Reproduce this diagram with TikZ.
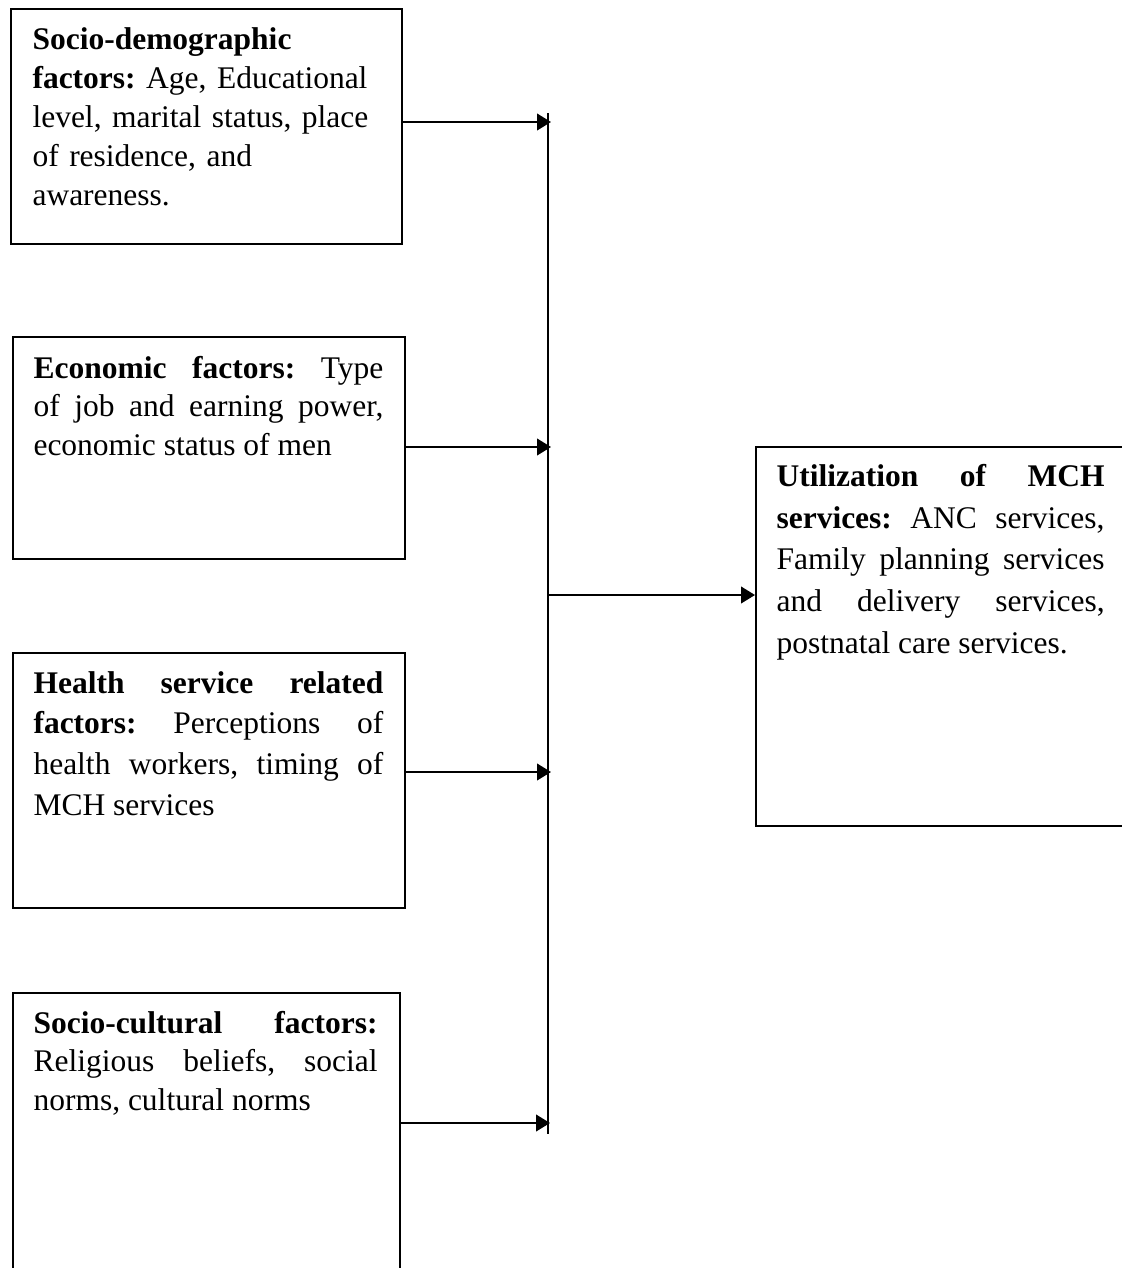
\documentclass[tikz,border=0pt]{standalone}
\usepackage{fontspec}
\setmainfont{Liberation Serif}
\frenchspacing
\usetikzlibrary{arrows.meta, positioning, calc}
\newcommand{\pxu}{0.381pt}
\tikzset{
  factorbox/.style={rectangle, draw, line width=0.8pt, anchor=north west, inner sep=0pt},
  factortext/.style={anchor=base west, inner sep=0pt, align=justify, text width=133.3pt},
  arrow/.style={-{Triangle[length=5.3pt, width=6.3pt]}, line width=0.8pt},
  busline/.style={line width=0.8pt},
}

\begin{document}
\begin{tikzpicture}[x=\pxu, y=-\pxu]
  \useasboundingbox (0,0) rectangle (1122,1268);

  % Factor boxes (left column)
  \node[factorbox, minimum width=149pt, minimum height=89.5pt] (socdem) at (10,8) {};
  \node[factorbox, minimum width=149.4pt, minimum height=84.6pt] (econ) at (12,336) {};
  \node[factorbox, minimum width=149.4pt, minimum height=97.2pt] (health) at (12,652) {};
  \node[factorbox, minimum width=147.4pt, minimum height=114.3pt] (sociocult) at (12,992) {};

  % Outcome box
  \node[factorbox, minimum width=144.8pt, minimum height=144.4pt] (util) at (755,446) {};

  % Box texts
  \node[factortext, align=left, font=\fontsize{12}{14.9}\selectfont] (socdemtxt) at (32,49)
    {\textbf{Socio-demographic}\\ \textbf{factors:} Age, Educational\\ level, marital status, place\\ of residence, and\\ awareness.};
  \node[factortext, font=\fontsize{12}{14.7}\selectfont] (econtxt) at (33,378)
    {\textbf{Economic factors:} Type\linebreak of job and earning power,\linebreak economic status of men};
  \node[factortext, font=\fontsize{12}{15.6}\selectfont] (healthtxt) at (33,693)
    {\textbf{Health service related}\linebreak \textbf{factors:} Perceptions of\linebreak health workers, timing of\linebreak MCH services};
  \node[factortext, text width=131.1pt, font=\fontsize{12}{14.7}\selectfont] (sociocultxt) at (33,1033)
    {\textbf{Socio-cultural factors:}\linebreak Religious beliefs, social\linebreak norms, cultural norms};
  \node[factortext, text width=125pt, font=\fontsize{12}{16}\selectfont] (utiltxt) at (776,486)
    {\textbf{Utilization of MCH}\linebreak \textbf{services:} ANC services,\linebreak Family planning services\linebreak and delivery services,\linebreak postnatal care services.};

  % Collecting line
  \coordinate (bustop) at (548,113);
  \coordinate (busbot) at (548,1134);
  \draw[busline] (bustop) -- (busbot);

  % Arrow ends on the collecting line
  \coordinate (in1) at (551,122);
  \coordinate (in2) at (551,447);
  \coordinate (in3) at (551,772);
  \coordinate (in4) at (550,1123);
  \coordinate (out) at (548,595);

  % Connections
  \draw[arrow] (socdem.east |- in1) -- (in1);
  \draw[arrow] (econ.east |- in2) -- (in2);
  \draw[arrow] (health.east |- in3) -- (in3);
  \draw[arrow] (sociocult.east |- in4) -- (in4);
  \draw[arrow] (out) -- (util.west |- out);

\end{tikzpicture}
\end{document}
